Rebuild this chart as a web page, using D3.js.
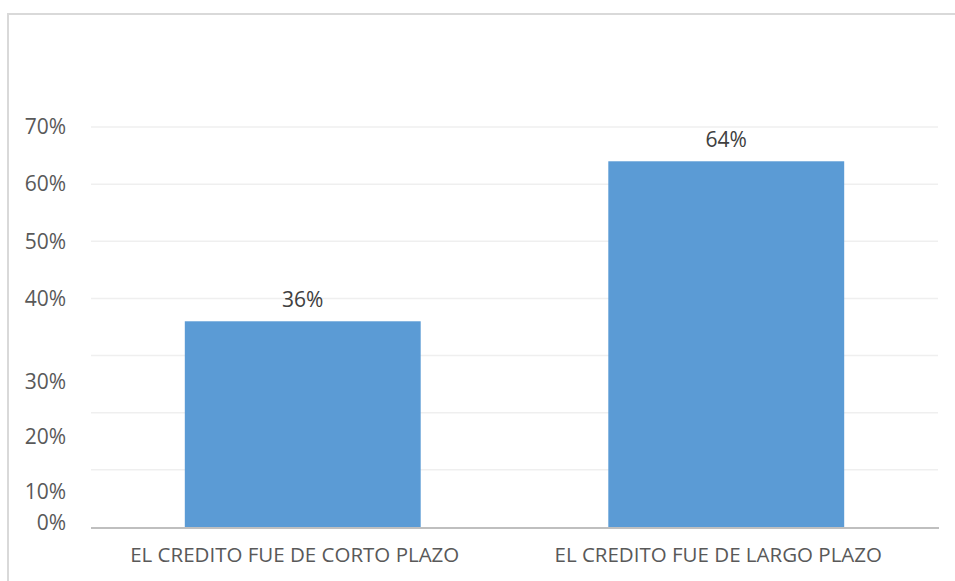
<!DOCTYPE html>
<html>
<head>
<meta charset="utf-8">
<script src="https://cdn.jsdelivr.net/npm/d3@7"></script>
<style>
  html, body { margin: 0; padding: 0; background: #fff; }
  svg { display: block; }
</style>
</head>
<body>
<svg id="chart" width="955" height="581"></svg>
<script>
// Data
const categories = ["EL CREDITO FUE DE CORTO PLAZO", "EL CREDITO FUE DE LARGO PLAZO"];
const values = [0.36, 0.64];
const valueLabels = ["36%", "64%"];
const gridValues = [0, 0.1, 0.2, 0.3, 0.4, 0.5, 0.6, 0.7];
const tickLabels = ["0%", "10%", "20%", "30%", "40%", "50%", "60%", "70%"];
// value positions at which the source drew each tick label
const tickLabelAt = [0.007, 0.061, 0.158, 0.254, 0.4, 0.5, 0.6, 0.7];

const svg = d3.select("#chart");
const W = 955, H = 581;
const margin = { left: 91, right: 17, top: 127, bottom: 54 };
const font = "'Open Sans', sans-serif";

// outer border
svg.append("rect")
  .attr("x", 8).attr("y", 14)
  .attr("width", W + 10).attr("height", H + 10)
  .attr("fill", "none").attr("stroke", "#d9d9d9").attr("stroke-width", 2);

const x = d3.scaleBand()
  .domain(categories)
  .range([margin.left, W - margin.right])
  .paddingInner(0.443)
  .paddingOuter(0.2215);

const y = d3.scaleLinear()
  .domain([0, 0.7])
  .range([H - margin.bottom, margin.top]);

// gridlines
svg.append("g")
  .selectAll("line")
  .data(gridValues.filter(d => d > 0))
  .join("line")
  .attr("x1", margin.left).attr("x2", W - margin.right)
  .attr("y1", d => y(d)).attr("y2", d => y(d))
  .attr("stroke", "#efefef").attr("stroke-width", 1.5);

// y tick labels
svg.append("g")
  .selectAll("text")
  .data(tickLabels)
  .join("text")
  .attr("x", 66)
  .attr("y", (d, i) => y(tickLabelAt[i]))
  .attr("dy", "0.35em")
  .attr("text-anchor", "end")
  .attr("font-family", font)
  .attr("font-size", 21)
  .attr("fill", "#595959")
  .text(d => d);

// bars
svg.append("g")
  .selectAll("rect")
  .data(values)
  .join("rect")
  .attr("x", (d, i) => x(categories[i]))
  .attr("width", x.bandwidth())
  .attr("y", d => y(d))
  .attr("height", d => y(0) - y(d))
  .attr("fill", "#5b9bd5");

// axis line
svg.append("line")
  .attr("x1", margin.left).attr("x2", W - margin.right + 1)
  .attr("y1", y(0) + 1).attr("y2", y(0) + 1)
  .attr("stroke", "#bfbfbf").attr("stroke-width", 2);

// data labels
svg.append("g")
  .selectAll("text")
  .data(values)
  .join("text")
  .attr("x", (d, i) => x(categories[i]) + x.bandwidth() / 2)
  .attr("y", d => y(d) - 22)
  .attr("dy", "0.35em")
  .attr("text-anchor", "middle")
  .attr("font-family", font)
  .attr("font-size", 21)
  .attr("fill", "#404040")
  .text((d, i) => valueLabels[i]);

// category labels
svg.append("g")
  .selectAll("text")
  .data(categories)
  .join("text")
  .attr("x", d => x(d) + x.bandwidth() / 2 - 8)
  .attr("y", 555)
  .attr("dy", "0.35em")
  .attr("text-anchor", "middle")
  .attr("font-family", font)
  .attr("font-size", 20.5)
  .attr("fill", "#595959")
  .text(d => d);
</script>
</body>
</html>
